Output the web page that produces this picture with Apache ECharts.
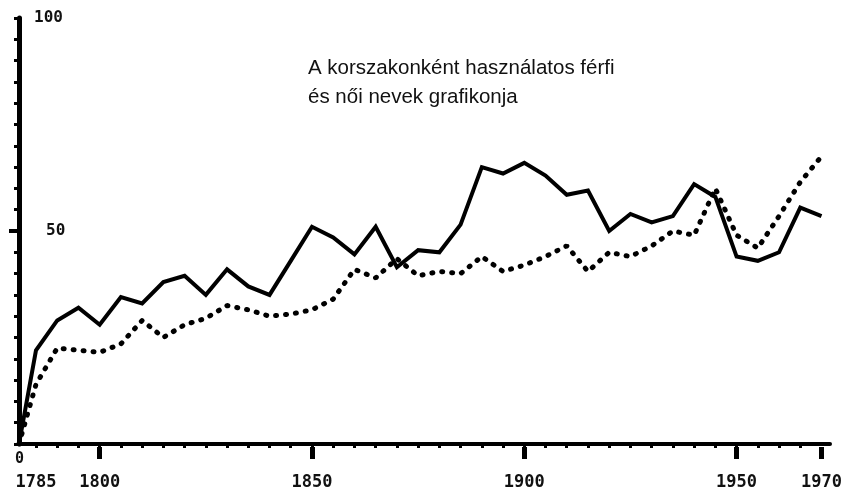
<!DOCTYPE html>
<html>
<head>
<meta charset="utf-8">
<script src="https://cdn.jsdelivr.net/npm/echarts@6/dist/echarts.min.js"></script>
<style>
html, body { margin: 0; padding: 0; background: #fff; }
#main { width: 852px; height: 491px; }
</style>
</head>
<body>
<div id="main"></div>
<script>
// évek (5 évenként, a kezdőpont az origó)
const years = [1781, 1785, 1790, 1795, 1800, 1805, 1810, 1815, 1820, 1825, 1830, 1835, 1840, 1845,
	1850, 1855, 1860, 1865, 1870, 1875, 1880, 1885, 1890, 1895, 1900, 1905, 1910, 1915, 1920,
	1925, 1930, 1935, 1940, 1945, 1950, 1955, 1960, 1965, 1970];

// folytonos vonal
const solidVals = [0, 22, 29, 32, 28, 34.5, 33, 38, 39.5, 35, 41, 37, 35, 43,
	51, 48.5, 44.5, 51, 41.5, 45.5, 45, 51.5, 65, 63.5, 66, 63, 58.5, 59.5, 50,
	54, 52, 53.5, 61, 58, 44, 43, 45, 55.5, 53.5];

// pontozott vonal
const dottedVals = [0, 14, 22.5, 22, 21.5, 23.5, 29, 25, 28, 29.5, 32.5, 31.5, 30, 30.5,
	31.5, 34, 41, 39, 43.5, 39.5, 40.5, 40, 44, 40.5, 42, 44, 46.5, 40.5, 45,
	44, 46.5, 50, 49, 60, 49, 46, 53.5, 61.5, 67.5];

// tengelyfeliratok, osztások
const xLabels = [1785, 1800, 1850, 1900, 1950, 1970];
const xMajorTicks = [1800, 1850, 1900, 1950, 1970];
const xMinorTicks = [];
for (let y = 1785; y <= 1965; y += 5) xMinorTicks.push(y);
const yLabels = [50, 100];

const pairs = vals => years.map((y, i) => [y, vals[i]]);

const monoFont = '"DejaVu Sans Mono", "Liberation Mono", monospace';

let myChart = echarts.init(document.getElementById('main'));

let option = {
	animation: false,
	backgroundColor: '#fff',
	title: {
		text: 'A korszakonként használatos férfi\nés női nevek grafikonja',
		left: 303,
		top: 49,
		textStyle: {
			fontFamily: '"Liberation Sans", Arial, sans-serif',
			fontSize: 20.5,
			fontWeight: 'normal',
			lineHeight: 29,
			color: '#111'
		}
	},
	grid: { left: 19, right: 22, top: 18, bottom: 47 },
	xAxis: [
		{
			type: 'value', min: 1781, max: 1972,
			splitLine: { show: false },
			axisLine: { lineStyle: { color: '#000', width: 4 } },
			axisTick: { show: false },
			axisLabel: {
				customValues: xLabels,
				margin: 30,
				fontFamily: monoFont,
				fontSize: 17,
				fontWeight: 'bold',
				color: '#111',
				formatter: v => String(v)
			}
		},
		{
			// apró pontszerű osztások
			type: 'value', min: 1781, max: 1972, position: 'bottom', offset: 4,
			splitLine: { show: false },
			axisLine: { show: false },
			axisLabel: { show: false },
			axisTick: { customValues: xMinorTicks, length: 4, lineStyle: { color: '#000', width: 3 } }
		},
		{
			// nagy osztások
			type: 'value', min: 1781, max: 1972, position: 'bottom', offset: 3,
			splitLine: { show: false },
			axisLine: { show: false },
			axisLabel: { show: false },
			axisTick: { customValues: xMajorTicks, length: 12, lineStyle: { color: '#000', width: 5 } }
		}
	],
	yAxis: [
		{
			type: 'value', min: 0, max: 100, interval: 5,
			splitLine: { show: false },
			axisLine: { show: true, lineStyle: { color: '#000', width: 5 } },
			axisTick: { show: true, length: 5, lineStyle: { color: '#000', width: 3 } },
			axisLabel: {
				inside: true,
				customValues: yLabels,
				margin: 15,
				fontFamily: monoFont,
				fontSize: 16,
				fontWeight: 'bold',
				color: '#111',
				formatter: v => v === 50 ? '{p|' + v + '}' : String(v),
				rich: { p: { padding: [0, 0, 0, 12], fontFamily: monoFont, fontSize: 16, fontWeight: 'bold', color: '#111' } }
			}
		},
		{
			type: 'value', min: 0, max: 100, position: 'left',
			splitLine: { show: false },
			axisLine: { show: false },
			axisLabel: { show: false },
			axisTick: { customValues: [50], length: 10, lineStyle: { color: '#000', width: 4 } }
		}
	],
	graphic: [{
		type: 'text',
		left: 15, top: 452,
		style: { text: '0', font: 'bold 15px ' + monoFont, fill: '#111' }
	}],
	series: [
		{
			name: 'solid',
			type: 'line',
			data: pairs(solidVals),
			symbol: 'none',
			lineStyle: { color: '#000', width: 4, join: 'miter' }
		},
		{
			name: 'dotted',
			type: 'line',
			data: pairs(dottedVals),
			symbol: 'none',
			lineStyle: { color: '#000', width: 5, type: [1, 9], cap: 'round' }
		}
	]
};

myChart.setOption(option);
</script>
</body>
</html>
